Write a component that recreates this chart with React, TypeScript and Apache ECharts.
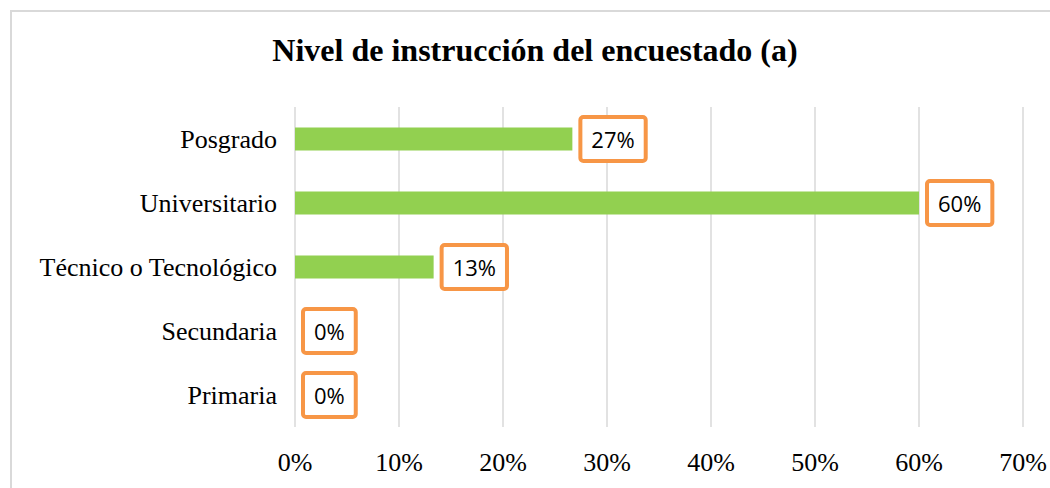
import React, { useEffect, useRef } from "react";
import * as echarts from "echarts";

const title = "Nivel de instrucción del encuestado (a)";
const categories = ["Posgrado", "Universitario", "Técnico o Tecnológico", "Secundaria", "Primaria"];
const values = [26.67, 60, 13.33, 0, 0];
const xTicks = [0, 10, 20, 30, 40, 50, 60, 70];

const SERIF = "'Times New Roman', 'Liberation Serif', serif";
const SANS = "'Open Sans', 'Noto Sans', sans-serif";

export default function App() {
  const ref = useRef<HTMLDivElement>(null);
  useEffect(() => {
    if (!ref.current) return;
    const chart = echarts.init(ref.current, undefined, { renderer: "svg" });
    chart.setOption({
      animation: false,
      backgroundColor: "#ffffff",
      graphic: [
        {
          type: "rect",
          shape: { x: 11, y: 11, width: 1100, height: 600 },
          style: { fill: "none", stroke: "#D9D9D9", lineWidth: 2 },
          silent: true,
        },
        {
          type: "text",
          x: 535,
          y: 50,
          style: {
            text: title,
            fontFamily: SERIF,
            fontWeight: "bold",
            fontSize: 32,
            fill: "#000000",
            align: "center",
            verticalAlign: "middle",
          },
        },
      ],
      grid: { left: 295, right: 27, top: 107, bottom: 61, containLabel: false },
      xAxis: {
        type: "value",
        min: xTicks[0],
        max: xTicks[xTicks.length - 1],
        interval: 10,
        axisLine: { show: false },
        axisTick: { show: false },
        splitLine: { show: true, lineStyle: { color: "#D9D9D9", width: 1.5 } },
        axisLabel: {
          formatter: (v: number) => `${v}%`,
          fontFamily: SERIF,
          fontSize: 26,
          color: "#000000",
          margin: 22,
        },
      },
      yAxis: {
        type: "category",
        data: categories,
        inverse: true,
        axisLine: { show: false },
        axisTick: { show: false },
        splitLine: { show: false },
        axisLabel: {
          fontFamily: SERIF,
          fontSize: 26,
          color: "#000000",
          margin: 18,
        },
      },
      series: [
        {
          type: "bar",
          data: values,
          barWidth: 23,
          itemStyle: { color: "#92D050" },
          label: {
            show: true,
            position: "right",
            distance: 10,
            formatter: (p: any) => `${Math.round(p.value)}%`,
            fontFamily: SANS,
            fontSize: 22,
            lineHeight: 24,
            color: "#000000",
            backgroundColor: "#ffffff",
            borderColor: "#F79646",
            borderWidth: 4,
            borderRadius: 1,
            padding: [8, 9],
          },
        },
      ],
    });
    return () => chart.dispose();
  }, []);
  return (
    <div
      ref={ref}
      style={{ position: "fixed", left: 0, top: 0, width: 1050, height: 488 }}
    />
  );
}
